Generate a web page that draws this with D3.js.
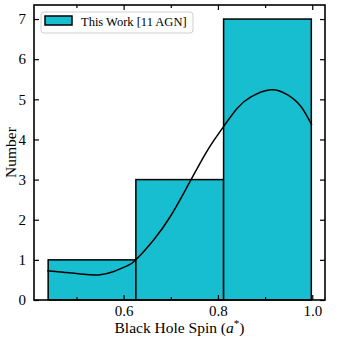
<!DOCTYPE html>
<html>
<head>
<meta charset="utf-8">
<script src="https://cdn.jsdelivr.net/npm/d3@7"></script>
<style>
  body { margin: 0; background: #fff; }
  text { font-family: "Liberation Serif", "DejaVu Serif", serif; fill: #000; }
</style>
</head>
<body>
<div class="chart"></div>
<script>
//histogram data
var binEdges = [0.44, 0.626, 0.812, 0.998];
var binCounts = [1, 3, 7];
//kde curve
var kdeX = [0.438, 0.472, 0.515, 0.550, 0.579, 0.607, 0.625, 0.664, 0.699, 0.731, 0.770, 0.791, 0.813, 0.841, 0.870, 0.912, 0.948, 0.976, 0.999];
var kdeY = [0.73, 0.69, 0.64, 0.63, 0.71, 0.85, 0.99, 1.50, 2.08, 2.74, 3.57, 3.97, 4.34, 4.78, 5.06, 5.24, 5.11, 4.82, 4.36];
//ticks
var xMajor = [0.6, 0.8, 1.0];
var xMinor = [0.5, 0.7, 0.9];
var yMajor = [0, 1, 2, 3, 4, 5, 6, 7];
var legendLabel = 'This Work [11 AGN]';

var size = {'w' : 342, 'h' : 342};
var plot = {'left' : 34, 'right' : 325, 'top' : 5, 'bottom' : 300};

var svg = d3.select('.chart')
  .append('svg')
    .attr('width', size.w)
    .attr('height', size.h);

var x = d3.scaleLinear().domain([0.41, 1.027]).range([plot.left, plot.right]);
var y = d3.scaleLinear().domain([0, 7.35]).range([plot.bottom, plot.top]);

//bars
var bins = binCounts.map(function(c, i){ return {x0 : binEdges[i], x1 : binEdges[i + 1], n : c}; });
svg.selectAll('.bar')
  .data(bins)
  .enter()
  .append('rect')
    .attr('class', 'bar')
    .attr('x', function(d){ return x(d.x0); })
    .attr('y', function(d){ return y(d.n); })
    .attr('width', function(d){ return x(d.x1) - x(d.x0); })
    .attr('height', function(d){ return y(0) - y(d.n); })
    .attr('fill', '#17becf')
    .attr('stroke', '#000')
    .attr('stroke-width', 1.5);

//kde line
var line = d3.line()
  .x(function(d){ return x(d[0]); })
  .y(function(d){ return y(d[1]); })
  .curve(d3.curveNatural);
svg.append('path')
  .datum(kdeX.map(function(v, i){ return [v, kdeY[i]]; }))
  .attr('d', line)
  .attr('fill', 'none')
  .attr('stroke', '#000')
  .attr('stroke-width', 1.5);

//axes, ticks pointing in
var major = 5, minor = 3;
svg.append('g').attr('transform', 'translate(0,' + plot.bottom + ')')
  .call(d3.axisBottom(x).tickValues(xMajor).tickSize(-major).tickPadding(5).tickFormat(d3.format('.1f')));
svg.append('g').attr('transform', 'translate(0,' + plot.bottom + ')')
  .call(d3.axisBottom(x).tickValues(xMinor).tickSize(-minor).tickFormat(''));
svg.append('g').attr('transform', 'translate(0,' + plot.top + ')')
  .call(d3.axisTop(x).tickValues(xMajor).tickSize(-major).tickFormat(''));
svg.append('g').attr('transform', 'translate(0,' + plot.top + ')')
  .call(d3.axisTop(x).tickValues(xMinor).tickSize(-minor).tickFormat(''));
svg.append('g').attr('transform', 'translate(' + plot.left + ',0)')
  .call(d3.axisLeft(y).tickValues(yMajor).tickSize(-major).tickPadding(8).tickFormat(d3.format('d')));
svg.append('g').attr('transform', 'translate(' + plot.right + ',0)')
  .call(d3.axisRight(y).tickValues(yMajor).tickSize(-major).tickFormat(''));

svg.selectAll('.domain').remove();
svg.selectAll('.tick line').attr('stroke', '#000').attr('stroke-width', 1.2);
svg.selectAll('.tick text').style('font-size', '15px').style('font-family', '"Liberation Serif", serif');

//frame
svg.append('rect')
  .attr('x', plot.left).attr('y', plot.top)
  .attr('width', plot.right - plot.left).attr('height', plot.bottom - plot.top)
  .attr('fill', 'none').attr('stroke', '#000').attr('stroke-width', 1.6);

//axis labels
var xl = svg.append('text')
  .attr('x', (plot.left + plot.right) / 2).attr('y', 333)
  .attr('text-anchor', 'middle').style('font-size', '15.5px');
xl.append('tspan').text('Black Hole Spin (');
xl.append('tspan').style('font-style', 'italic').text('a');
xl.append('tspan').attr('dy', -6).style('font-size', '11px').text('*');
xl.append('tspan').attr('dy', 6).text(')');

svg.append('text')
  .attr('transform', 'translate(16,' + ((plot.top + plot.bottom) / 2) + ') rotate(-90)')
  .attr('text-anchor', 'middle').style('font-size', '15.5px')
  .text('Number');

//legend
var lg = svg.append('g');
lg.append('rect')
  .attr('x', 41).attr('y', 12).attr('width', 152).attr('height', 21).attr('rx', 3)
  .attr('fill', '#fff').attr('fill-opacity', 0.8).attr('stroke', '#d0d0d0');
lg.append('rect')
  .attr('x', 45).attr('y', 16).attr('width', 27).attr('height', 9)
  .attr('fill', '#17becf').attr('stroke', '#000').attr('stroke-width', 1.5);
lg.append('text')
  .attr('x', 81).attr('y', 26).style('font-size', '12.5px')
  .text(legendLabel);
</script>
</body>
</html>
